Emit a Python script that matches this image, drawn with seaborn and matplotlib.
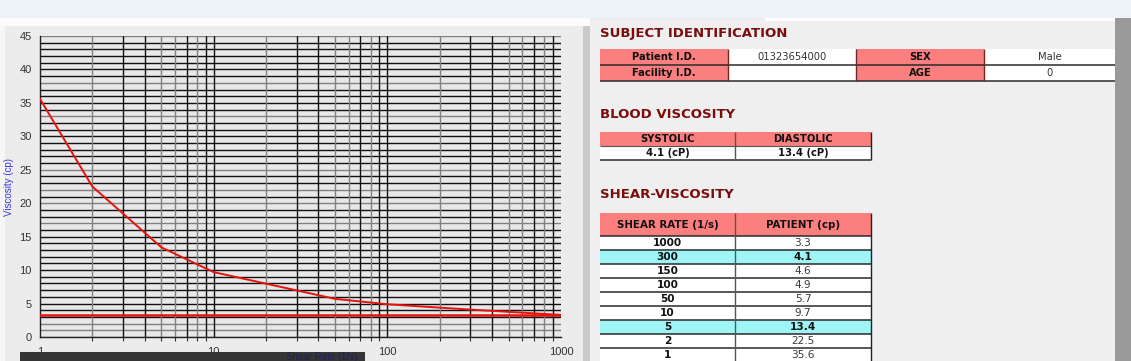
import matplotlib
matplotlib.use("Agg")
import matplotlib.pyplot as plt
import pandas as pd
import seaborn as sns
from matplotlib.patches import Rectangle

# shear-viscosity readings (table + curve)
SHEAR_RATES = [1000, 300, 150, 100, 50, 10, 5, 2, 1]
PATIENT_CP = [3.3, 4.1, 4.6, 4.9, 5.7, 9.7, 13.4, 22.5, 35.6]
HIGHLIGHT_RATES = [300, 5]
BASELINE_CP = 3.3

X_TICKS = [1, 10, 100, 1000]
Y_TICKS = [0, 5, 10, 15, 20, 25, 30, 35, 40, 45]

SUBJECT_KEYS = ["Patient I.D.", "Facility I.D."]
SUBJECT_VALUES = ["01323654000", ""]
SUBJECT_KEYS_2 = ["SEX", "AGE"]
SUBJECT_VALUES_2 = ["Male", "0"]

BLOOD_HEADERS = ["SYSTOLIC", "DIASTOLIC"]
BLOOD_VALUES = ["4.1 (cP)", "13.4 (cP)"]
SHEAR_HEADERS = ["SHEAR RATE (1/s)", "PATIENT (cp)"]

W, H = 1131, 361
SALMON = "#fb7f7f"
CYAN = "#9ff5f5"
TITLE_RED = "#7a0c0c"
CURVE_RED = "#e8120c"

sns.set_theme(style="white")
plt.rcParams["font.family"] = ["DejaVu Sans"]

fig = plt.figure(figsize=(W / 100, H / 100), dpi=100)
fig.patch.set_facecolor("#ececec")

# pixel-space overlay for panels and tables
bg = fig.add_axes([0, 0, 1, 1], zorder=0)
bg.set_xlim(0, W)
bg.set_ylim(H, 0)
bg.axis("off")


def box(x0, y0, x1, y1, color, ax=bg, z=0):
    ax.add_patch(Rectangle((x0, y0), x1 - x0, y1 - y0, facecolor=color,
                           edgecolor="none", zorder=z))


box(0, 0, W, 18, "#edf1f8")
box(0, 18, 590, 26, "#fbfbfb")
box(0, 26, 5, H, "#f6f6f6")
box(583, 26, 590, H, "#c9c9c9")
box(590, 21, W, H, "#efefef")
box(765, 18, 1115, 21, "#ffffff")
box(1115, 18, W, H, "#9a9a9a")
box(20, 352, 365, H, "#363636")

# ---- chart ----
ax = fig.add_axes([40 / W, 1 - 337 / H, 521 / W, 301 / H], zorder=2)
ax.set_facecolor("#e8e8e8")
ax.set_xscale("log")
ax.set_xlim(1, 1000)
ax.set_ylim(0, 45)

gray_rows = {0, 1, 2, 17, 20, 22, 25, 33, 38, 45}
for v in range(0, 46):
    ax.axhline(v, color="#808080" if v in gray_rows else "#111111", lw=1.0, zorder=1)
digit_color = {2: "#808080", 3: "#111111", 4: "#111111", 5: "#808080",
               6: "#808080", 7: "#111111", 8: "#808080", 9: "#111111"}
for dec in [1, 10, 100]:
    for d in range(2, 10):
        ax.axvline(d * dec, color=digit_color[d], lw=1.0, zorder=1)
ax.axvline(10, color="#111111", lw=1.0, zorder=1)
ax.axvline(100, color="#111111", lw=1.0, zorder=1)

df = pd.DataFrame({"shear": SHEAR_RATES, "cp": PATIENT_CP})
ax.axhline(BASELINE_CP, color=CURVE_RED, lw=1.8, zorder=3)
sns.lineplot(data=df, x="shear", y="cp", color=CURVE_RED, lw=1.4, ax=ax,
             sort=True, zorder=4)

for s in ["top", "right"]:
    ax.spines[s].set_visible(False)
for s in ["left", "bottom"]:
    ax.spines[s].set_color("#222222")
    ax.spines[s].set_linewidth(1.0)

ax.set_xticks(X_TICKS)
ax.set_xticklabels([str(t) for t in X_TICKS])
ax.set_yticks(Y_TICKS)
ax.set_yticklabels([str(t) for t in Y_TICKS])
ax.tick_params(axis="both", which="major", direction="out", length=5, width=0.8,
               color="#333333", labelcolor="#333333", labelsize=8, pad=1)
ax.tick_params(axis="x", which="minor", direction="out", length=3, width=0.8,
               color="#333333", bottom=True)
ax.tick_params(axis="x", which="major", pad=2)
for lab in ax.get_xticklabels() + ax.get_yticklabels():
    lab.set_fontfamily("Liberation Sans")

ax.set_ylabel("Viscosity (cp)", color="#3a3adc", fontsize=7,
              fontfamily="Liberation Sans")
ax.yaxis.set_label_coords(-0.05, 0.5)
ax.set_xlabel("Shear Rate (1/s)", color="#20205a", fontsize=7,
              fontfamily="Liberation Sans")
ax.xaxis.set_label_coords(0.54, -0.05)

# ---- right-hand tables ----
ov = fig.add_axes([0, 0, 1, 1], zorder=3)
ov.set_xlim(0, W)
ov.set_ylim(H, 0)
ov.axis("off")
ov.patch.set_alpha(0)


def cell(x0, y0, x1, y1, text, fc, bold=False, color="#111111", size=7.2):
    box(x0, y0, x1, y1, fc, ax=ov, z=1)
    ov.text((x0 + x1) / 2, (y0 + y1) / 2 + 0.5, text, ha="center", va="center",
            fontsize=size, fontweight="bold" if bold else "normal", color=color,
            zorder=3)


def hline(y, x0, x1, color="#2a2a2a", lw=1.1):
    ov.plot([x0, x1], [y, y], color=color, lw=lw, zorder=2, solid_capstyle="butt")


def vline(x, y0, y1, color="#555555", lw=1.0):
    ov.plot([x, x], [y0, y1], color=color, lw=lw, zorder=2, solid_capstyle="butt")


def title(y, text):
    ov.text(600, y, text, ha="left", va="center", fontsize=9.5,
            fontweight="bold", color=TITLE_RED)


# subject identification
title(33, "SUBJECT IDENTIFICATION")
cols = [600, 728, 856, 984, 1115]
rows = [49, 65, 81]
for i in range(2):
    y0, y1 = rows[i], rows[i + 1]
    cell(cols[0], y0, cols[1], y1, SUBJECT_KEYS[i], SALMON, bold=True)
    cell(cols[1], y0, cols[2], y1, SUBJECT_VALUES[i], "white", color="#333333")
    cell(cols[2], y0, cols[3], y1, SUBJECT_KEYS_2[i], SALMON, bold=True)
    cell(cols[3], y0, cols[4], y1, SUBJECT_VALUES_2[i], "white", color="#333333")
    hline(y1, cols[0], cols[4])
for x in cols[1:-1]:
    vline(x, rows[0], rows[-1], color="#6a2a2a")

# blood viscosity
title(114, "BLOOD VISCOSITY")
bcols = [600, 735, 871]
for j in range(2):
    cell(bcols[j], 132, bcols[j + 1], 146, BLOOD_HEADERS[j], SALMON, bold=True)
    cell(bcols[j], 146, bcols[j + 1], 160, BLOOD_VALUES[j], "white", bold=True)
hline(146, 600, 871, color="#555555", lw=0.8)
hline(160, 600, 871)
vline(735, 132, 160)
vline(871, 132, 160, color="#222222")

# shear-viscosity
title(194, "SHEAR-VISCOSITY")
for j in range(2):
    cell(bcols[j], 213, bcols[j + 1], 236, SHEAR_HEADERS[j], SALMON, bold=True,
         size=7.4)
row_h = 14
for i, (rate, cp) in enumerate(zip(SHEAR_RATES, PATIENT_CP)):
    y0 = 236 + i * row_h
    hl = rate in HIGHLIGHT_RATES
    fc = CYAN if hl else "white"
    cell(600, y0, 735, y0 + row_h, str(rate), fc, bold=True, size=7.6)
    cell(735, y0, 871, y0 + row_h, f"{cp:g}", fc, bold=hl,
         color="#111111" if hl else "#3a3a3a", size=7.6)
    hline(y0, 600, 871)
vline(735, 213, H)
vline(871, 213, H, color="#222222")

fig.savefig("out.png", dpi=100, facecolor=fig.get_facecolor())
